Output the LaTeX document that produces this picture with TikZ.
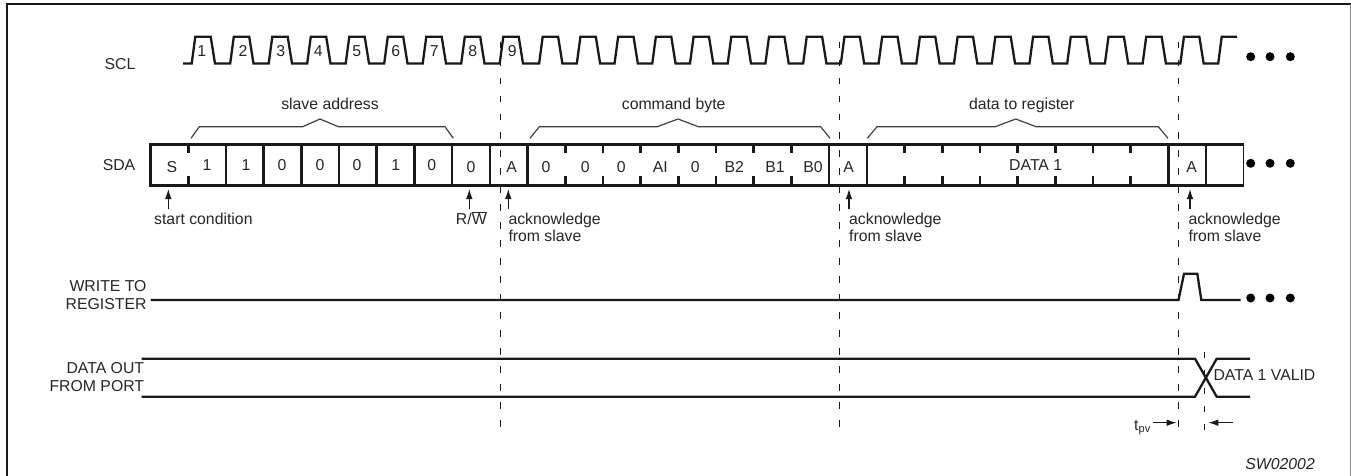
\documentclass[tikz,border=0pt]{standalone}
\usepackage{fontspec}
\setmainfont{Liberation Sans}
\usetikzlibrary{arrows.meta}
\tikzset{
  lbl/.style={inner sep=0pt,anchor=base,text=black!85,font=\fontsize{15.8}{17.7}\selectfont},
  lblleft/.style={lbl,anchor=base west},
  stackleft/.style={lbl,anchor=north west,align=left},
  stackright/.style={lbl,anchor=north east,align=right},
  sig/.style={line width=2.3pt,line join=miter,black!90},
  cell/.style={line width=2.6pt,black!90},
  bytebrace/.style={line width=1.2pt,black!75},
  guide/.style={line width=1.2pt,black!90,dash pattern=on 6.5pt off 11.5pt},
  ptr/.style={line width=1.1pt,black!90,-{Latex[length=10pt,width=6.5pt]}},
  dot/.style={circle,fill=black,inner sep=0pt,minimum size=9pt},
}
\begin{document}
\begin{tikzpicture}[x=1pt,y=-1pt]
  \useasboundingbox (0,0) rectangle (1351,476);
  \draw[line width=2.6pt,black!90] (7,476) -- (7,4) -- (1351,4);
  \draw[line width=.8pt,black!45] (1350.3,4) -- (1350.3,476);

  \foreach \x/\n in {500.2/a,839.2/b,1178.5/c}{
    \coordinate (guide\n top) at (\x,42);
    \coordinate (guide\n bot) at (\x,434);
    \draw[guide] (guide\n top) -- (guide\n bot);
  }
  \coordinate (guidedtop) at (1204.7,351.7);
  \coordinate (guidedbot) at (1204.7,434);
  \draw[guide] (guidedtop) -- (guidedbot);

  \node[lbl] (scl) at (120,69.6) {SCL};
  \draw[sig] (183,63.5)
    \foreach \i [evaluate=\i as \x using 195.3+38.5*\i] in {0,...,8}{
      -- (\x-3.6,63.5) -- (\x,36.7) -- (\x+15.4,36.7) -- (\x+19.7,63.5)
    }
    \foreach \i [evaluate=\i as \x using 542.7+37.72*(\i-9)] in {9,...,26}{
      -- (\x-3.6,63.5) -- (\x,36.7) -- (\x+15.4,36.7) -- (\x+19.7,63.5)
    }
    -- (1218.2,63.5) -- (1221.7,36.7) -- (1237,36.7);
  \foreach \x/\t in {201.7/1,243/2,280.7/3,318.3/4,356.7/5,395.7/6,434.3/7,472.7/8,512.3/9}
    \node[lbl] (pulse\t) at (\x,56.4) {\t};
  \foreach \x [count=\n] in {1250.7,1270,1290.3}{
    \node[dot] (sclend\n) at (\x,56.7) {};
    \node[dot] (sdaend\n) at (\x,163.3) {};
    \node[dot] (wrend\n) at (\x,298) {};
  }

  \node[lbl] (sda) at (119,170.6) {SDA};
  \draw[cell] (1243.8,144.7) -- (150.5,144.7) -- (150.5,185.7) -- (1243.8,185.7);
  \draw[line width=1.2pt,black!90] (1243.8,144.7) -- (1243.8,185.7);
  \foreach \i in {2,...,10,18,19,27,28}
    \draw[cell] (150.5+37.7*\i,144.7) -- (150.5+37.7*\i,185.7);
  \foreach \i in {1,11,12,...,17,20,21,...,26}{
    \draw[cell] (150.5+37.7*\i,144.7) -- (150.5+37.7*\i,153);
    \draw[cell] (150.5+37.7*\i,176) -- (150.5+37.7*\i,185.7);
  }
  \foreach \x/\t [count=\n] in {207/1,246/1,282/0,320/0,357/0,395.7/1,431.7/0,1035.7/DATA 1}
    \node[lbl] (bita\n) at (\x,170.6) {\t};
  \foreach \x/\t [count=\n] in {172/S,471/0,511.7/A,546/0,585.3/0,621.3/0,660.3/AI,695.3/0,734.3/B2,775/B1,813/B0,848.7/A,1191.7/A}
    \node[lbl] (bitb\n) at (\x,172.5) {\t};

  \node[lbl] (slaveaddr) at (330,109.3) {slave address};
  \node[lbl] (cmdbyte) at (673.7,109.3) {command byte};
  \node[lbl] (datareg) at (1021.7,109.3) {data to register};
  \draw[bytebrace] (191,138.3) -- (199.3,126.7) -- (302.7,126.7) -- (320,119) -- (338.3,126.7) -- (445,126.7) -- (453.3,138.3);
  \draw[bytebrace] (530,138.3) -- (539.3,126.7) -- (657.3,126.7) -- (678,119) -- (698.3,126.7) -- (820.7,126.7) -- (830,138.3);
  \draw[bytebrace] (867.3,138.3) -- (877,126.7) -- (995.3,126.7) -- (1015.7,119) -- (1036,126.7) -- (1158.3,126.7) -- (1168,138.3);

  \node[lblleft] (startcond) at (154,224.3) {start condition};
  \node[lbl] (rw) at (471.3,224.3) {R/$\overline{\mbox{W}}$};
  \foreach \x/\n in {508.3/a,849/b,1188.3/c}
    \node[stackleft] (ack\n) at (\x,212.6) {acknowledge\\from slave};
  \foreach \x/\n in {168.3/s,469.3/r,508.3/a,849/b,1190/c}{
    \coordinate (tail\n) at (\x,209);
    \coordinate (tip\n) at (\x,189);
    \draw[ptr] (tail\n) -- (tip\n);
  }

  \node[stackright] (wrlbl) at (146.7,280.2) {WRITE TO\\REGISTER};
  \coordinate (wrstart) at (150.7,300);
  \coordinate (wrend) at (1240.7,300);
  \draw[sig] (wrstart) -- (1178.5,300) -- (1184,273.7) -- (1197.3,273.7) -- (1201.3,300) -- (wrend);

  \node[stackright] (dolbl) at (144.3,362.6) {DATA OUT\\FROM PORT};
  \draw[sig] (141.7,358.7) -- (1195,358.7) -- (1216.7,396.7) -- (1250,396.7);
  \draw[sig] (141.7,396.7) -- (1195,396.7) -- (1216.7,358.7) -- (1250,358.7);
  \node[lblleft] (dvalid) at (1213.3,380.6) {DATA 1 VALID};

  \node[lblleft] (tpv) at (1134,430.6) {t\textsubscript{pv}};
  \coordinate (tpvl) at (1152.7,422.7);
  \coordinate (tpvlend) at (1176.7,422.7);
  \coordinate (tpvr) at (1233.3,422.7);
  \coordinate (tpvrend) at (1208.3,422.7);
  \draw[ptr] (tpvl) -- (tpvlend);
  \draw[ptr] (tpvr) -- (tpvrend);

  \node[lbl,anchor=base east,font=\fontsize{15.8}{17.7}\selectfont\itshape] (partno) at (1315,469.8) {SW02002};
\end{tikzpicture}
\end{document}
